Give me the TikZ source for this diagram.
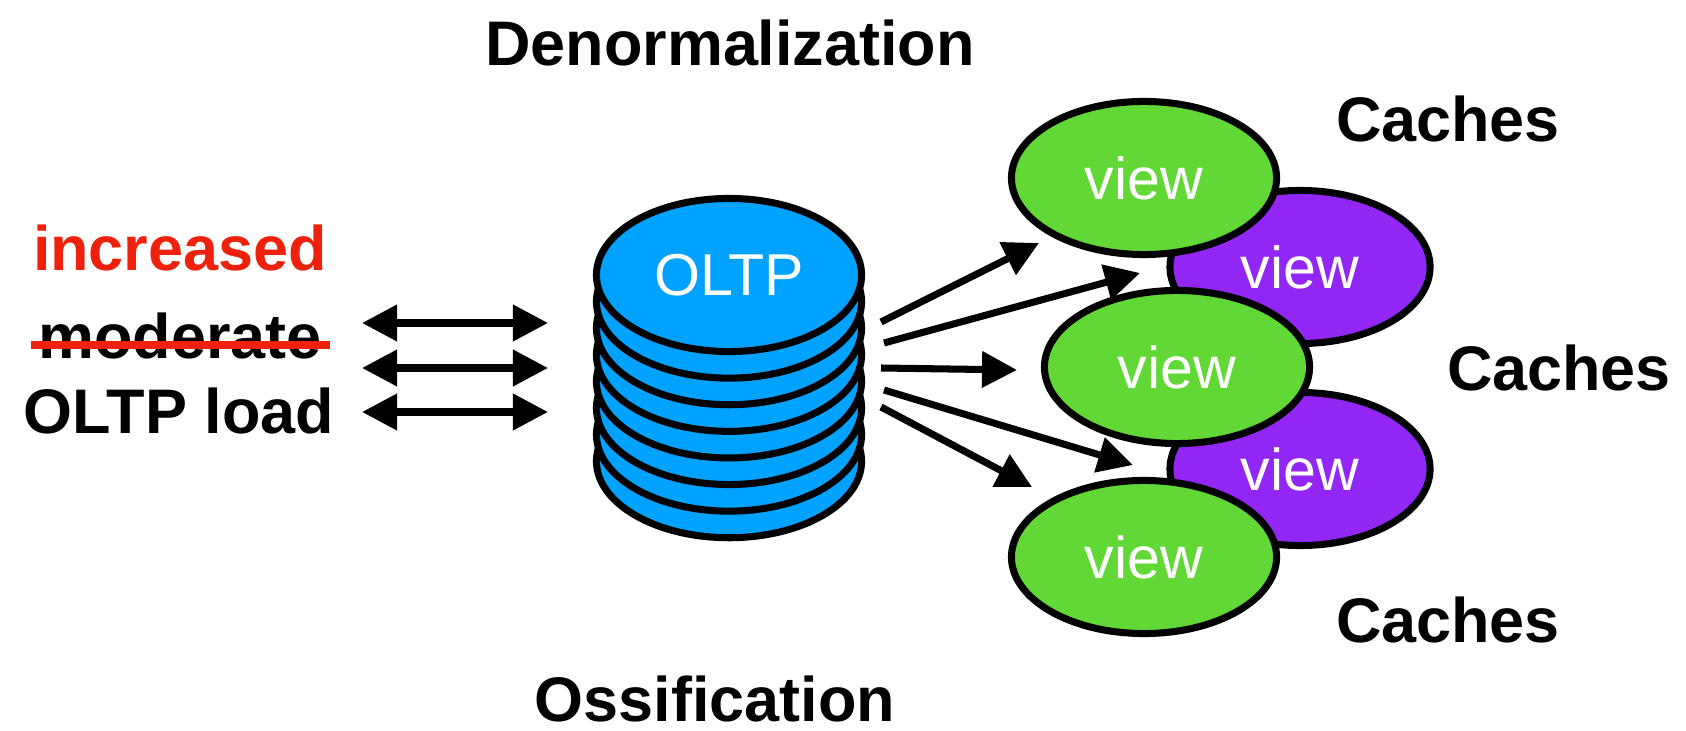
\documentclass[tikz,border=0pt]{standalone}
\usepackage{fontspec}
\setmainfont{Liberation Sans}
\usetikzlibrary{arrows.meta,shapes.geometric}
\definecolor{dbblue}{RGB}{0,162,255}
\definecolor{vgreen}{RGB}{97,216,54}
\definecolor{vpurple}{RGB}{146,38,245}
\definecolor{kred}{RGB}{238,34,12}
\begin{document}
\begin{tikzpicture}[x=0.01cm, y=-0.01cm,
  btxt/.style={font=\fontsize{17.9pt}{21pt}\selectfont\bfseries, inner sep=0pt, anchor=base},
  vtxt/.style={font=\fontsize{16.8pt}{20pt}\selectfont, text=white},
  viewG/.style={ellipse, draw=black, line width=2pt, fill=vgreen, minimum width=2.65cm, minimum height=1.53cm, inner sep=0pt, vtxt},
  viewP/.style={ellipse, draw=black, line width=2pt, fill=vpurple, minimum width=2.6cm, minimum height=1.53cm, inner sep=0pt, vtxt},
  disk/.style={draw=black, line width=2pt, fill=dbblue},
  arr/.style={line width=2pt, -{Triangle[length=0.35cm,width=0.35cm]}},
  darr/.style={line width=2pt, {Triangle[length=0.35cm,width=0.35cm]}-{Triangle[length=0.35cm,width=0.35cm]}},
  strike/.style={draw=kred, line width=2.1pt}
]
\useasboundingbox (0,0) rectangle (1686,731);
\fill[white] (0,0) rectangle (1686,731);

% titles
\node[btxt] (denorm) at (730,66) {Denormalization};
\node[btxt] (ossif) at (715,721) {Ossification};

% left labels
\node[btxt, text=kred] (incr) at (180,271) {increased};
\node[btxt] (moder) at (180,359) {moderate};
\node[btxt] (load) at (179,434) {OLTP load};
\coordinate (sk1) at (31,345);
\coordinate (sk2) at (330,345);
\draw[strike] (sk1) -- (sk2);

% left double arrows
\coordinate (l1a) at (362,323); \coordinate (l1b) at (548,323);
\coordinate (l2a) at (362,368); \coordinate (l2b) at (548,368);
\coordinate (l3a) at (362,412); \coordinate (l3b) at (548,412);
\draw[darr] (l1a) -- (l1b);
\draw[darr] (l2a) -- (l2b);
\draw[darr] (l3a) -- (l3b);

% database cylinder
\foreach \k in {7,6,...,0}
  \draw[disk] (729,{275+26.6*\k}) ellipse [x radius=1.325cm, y radius=0.765cm];
\node[vtxt, inner sep=0pt] (db) at (729,275) {OLTP};

% views
\node[viewP] (p1) at (1300,267) {view};
\node[viewP] (p2) at (1300,469) {view};
\node[viewG] (g1) at (1144,178) {view};
\node[viewG] (g2) at (1177,367) {view};
\node[viewG] (g3) at (1144,557) {view};

% caches labels
\node[btxt] (c1) at (1448,142) {Caches};
\node[btxt] (c2) at (1559,391) {Caches};
\node[btxt] (c3) at (1448,642) {Caches};

% arrows from database to views
\coordinate (r1s) at (881,322); \coordinate (r1e) at (1039,243);
\coordinate (r2s) at (884,343); \coordinate (r2e) at (1140,273);
\coordinate (r3s) at (881,368); \coordinate (r3e) at (1017,370);
\coordinate (r4s) at (884,390); \coordinate (r4e) at (1133,465);
\coordinate (r5s) at (881,407); \coordinate (r5e) at (1032,487);
\draw[arr] (r1s) -- (r1e);
\draw[arr] (r2s) -- (r2e);
\draw[arr] (r3s) -- (r3e);
\draw[arr] (r4s) -- (r4e);
\draw[arr] (r5s) -- (r5e);
\end{tikzpicture}
\end{document}
